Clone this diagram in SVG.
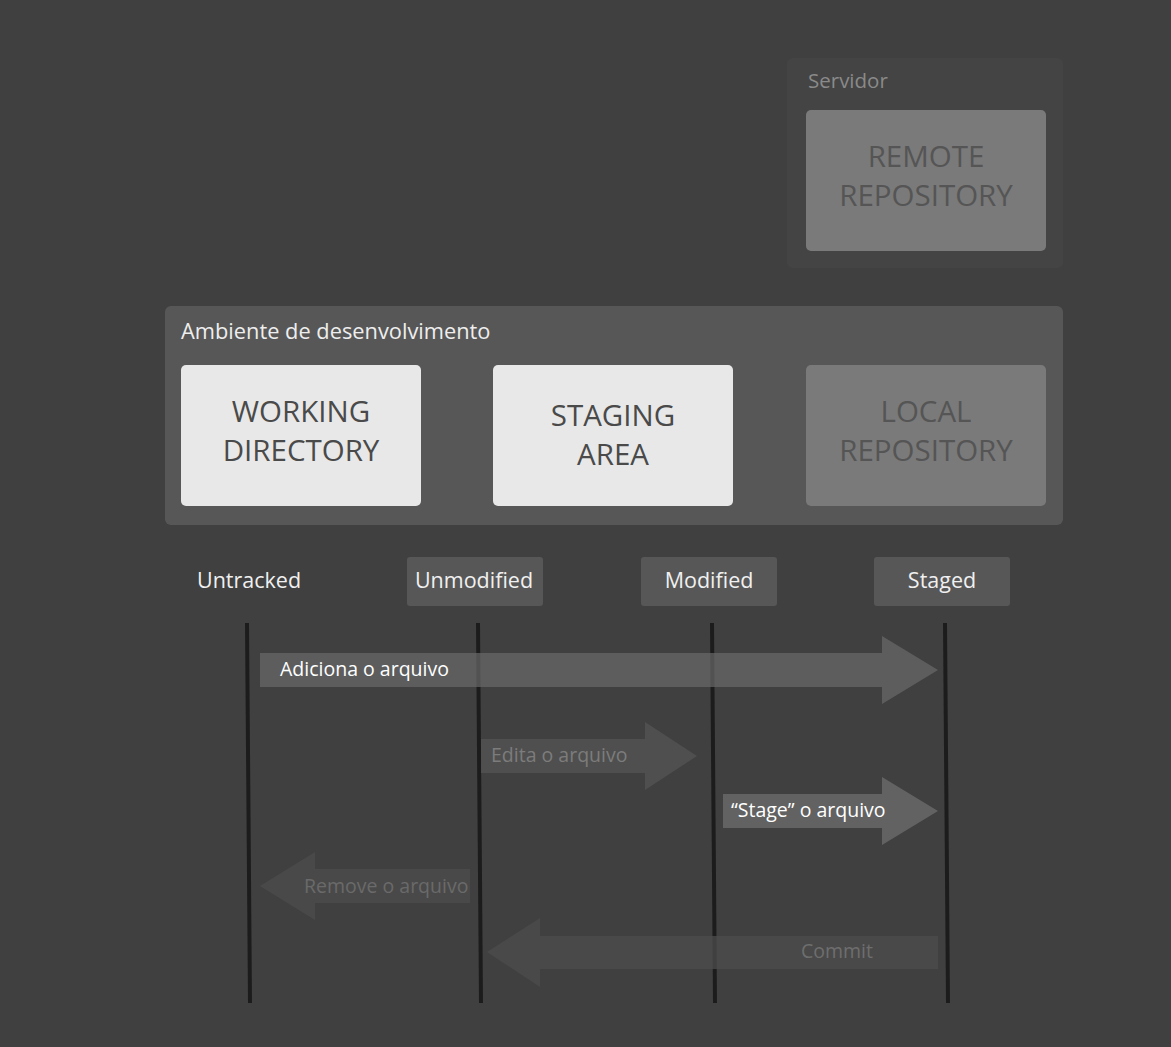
<svg xmlns="http://www.w3.org/2000/svg" width="1171" height="1047" viewBox="0 0 1171 1047">
<style>
text{font-family:"Open Sans","Noto Sans","Liberation Sans",sans-serif}
.big{font-size:29.5px;text-anchor:middle}
.dark{fill:#555555}
.st{font-size:21.5px;fill:#f0f0f0}
.vl{stroke:#1c1c1c;stroke-width:4}
.lbl{font-size:19.5px}
</style>
<rect width="1171" height="1047" fill="#404040"/>
<g id="servidor">
<rect x="787" y="58" width="276" height="210" rx="6" fill="#444444"/>
<text x="808" y="88" style="font-size:20.5px" fill="#8a8a8a">Servidor</text>
</g>
<g id="remote">
<rect x="806" y="110" width="240" height="141" rx="5" fill="#7a7a7a"/>
<text class="big dark" x="926" y="167">REMOTE</text>
<text class="big dark" x="926" y="206">REPOSITORY</text>
</g>
<g id="ambiente">
<rect x="165" y="306" width="898" height="219" rx="6" fill="#575757"/>
<text x="181" y="339" style="font-size:21.8px" fill="#eeeeee">Ambiente de desenvolvimento</text>
</g>
<g id="working">
<rect x="181" y="365" width="240" height="141" rx="5" fill="#e8e8e8"/>
<text class="big" x="301" y="422" fill="#4a4a4a">WORKING</text>
<text class="big" x="301" y="461" fill="#4a4a4a">DIRECTORY</text>
</g>
<g id="staging">
<rect x="493" y="365" width="240" height="141" rx="5" fill="#e8e8e8"/>
<text class="big" x="613" y="426" fill="#4a4a4a">STAGING</text>
<text class="big" x="613" y="465" fill="#4a4a4a">AREA</text>
</g>
<g id="local">
<rect x="806" y="365" width="240" height="141" rx="5" fill="#7a7a7a"/>
<text class="big dark" x="926" y="422">LOCAL</text>
<text class="big dark" x="926" y="461">REPOSITORY</text>
</g>
<g id="untracked">
<text class="st" x="197" y="588">Untracked</text>
</g>
<g id="unmodified">
<rect x="407" y="557" width="136" height="49" rx="3" fill="#575757"/>
<text class="st" x="474" y="588" text-anchor="middle">Unmodified</text>
</g>
<g id="modified">
<rect x="641" y="557" width="136" height="49" rx="3" fill="#575757"/>
<text class="st" x="709" y="588" text-anchor="middle">Modified</text>
</g>
<g id="staged">
<rect x="874" y="557" width="136" height="49" rx="3" fill="#575757"/>
<text class="st" x="942" y="588" text-anchor="middle">Staged</text>
</g>
<g id="connectors">
<line class="vl" x1="247" y1="623" x2="250" y2="1003"/>
<line class="vl" x1="478" y1="623" x2="481" y2="1003"/>
<line class="vl" x1="712" y1="623" x2="715" y2="1003"/>
<line class="vl" x1="945" y1="623" x2="948" y2="1003"/>
<g id="adiciona">
<polygon points="260,653 882,653 882,636 938,670 882,704 882,687 260,687" fill="#6a6a6a" fill-opacity="0.7"/>
<text class="lbl" x="280" y="676" fill="#ffffff">Adiciona o arquivo</text>
</g>
<g id="edita">
<polygon points="481,739 645,739 645,722 697,756 645,790 645,773 481,773" fill="#555555" fill-opacity="0.7"/>
<text class="lbl" x="491" y="762" fill="#7c7c7c">Edita o arquivo</text>
</g>
<g id="stage">
<polygon points="723,794 882,794 882,777 938,811 882,845 882,828 723,828" fill="#6a6a6a" fill-opacity="0.8"/>
<text class="lbl" x="731" y="817" fill="#ffffff">“Stage” o arquivo</text>
</g>
<g id="remove">
<polygon points="470,869 315,869 315,852 260,886 315,920 315,903 470,903" fill="#4c4c4c" fill-opacity="0.75"/>
<text class="lbl" x="304" y="893" fill="#6a6a6a">Remove o arquivo</text>
</g>
<g id="commit">
<polygon points="938,936 540,936 540,918 487,952 540,987 540,969 938,969" fill="#4c4c4c" fill-opacity="0.75"/>
<text class="lbl" x="801" y="958" fill="#6e6e6e">Commit</text>
</g>
</g>
</svg>
